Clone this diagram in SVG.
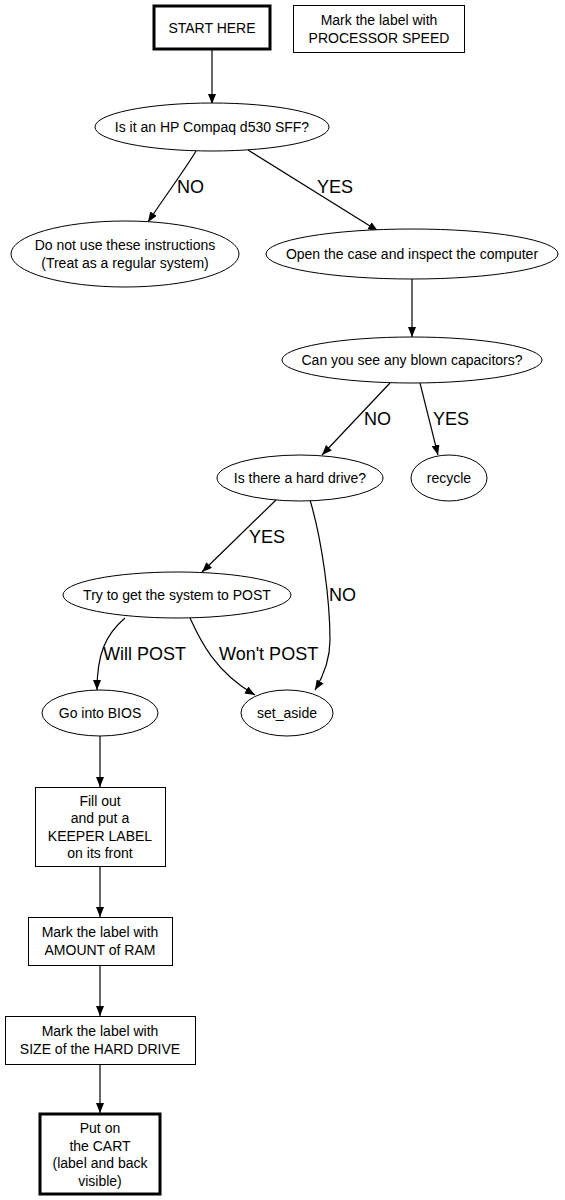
<svg xmlns="http://www.w3.org/2000/svg" width="565" height="1200" viewBox="0 0 565 1200">
<defs>
<marker id="arr" markerWidth="10" markerHeight="8" refX="10" refY="4" orient="auto" markerUnits="userSpaceOnUse">
<path d="M0,0 L10,4 L0,8 z" fill="#000"/>
</marker>
<style>
.n{fill:#fff;stroke:#000;stroke-width:1}
.b{fill:#fff;stroke:#000;stroke-width:3}
text{font-family:"Liberation Sans",Arial,sans-serif;fill:#000}
.t{font-size:14px;text-anchor:middle}
.l{font-size:18px}
.e{fill:none;stroke:#000;stroke-width:1.2;marker-end:url(#arr)}
</style>
</defs>
<rect width="565" height="1200" fill="#fff"/>
<g id="connectors">
<path class="e" d="M212,50 L212,104"/>
<path class="e" d="M196,151 C186,168 166,195 148,222"/>
<path class="e" d="M248,150 L378,231"/>
<path class="e" d="M412,279 L412,337"/>
<path class="e" d="M390,383 L322,455"/>
<path class="e" d="M420,383 L438,455"/>
<path class="e" d="M276,500 L202,572"/>
<path class="e" d="M310,500 C322,540 330,600 330,640 C330,660 324,675 315,690"/>
<path class="e" d="M125,618 C105,635 97,655 97,690"/>
<path class="e" d="M190,618 C200,640 215,672 255,695"/>
<path class="e" d="M100,736 L100,787"/>
<path class="e" d="M100,866 L100,917"/>
<path class="e" d="M100,965 L100,1016"/>
<path class="e" d="M100,1064 L100,1113"/>
<text class="l" x="177" y="193">NO</text>
<text class="l" x="317" y="193">YES</text>
<text class="l" x="364" y="425">NO</text>
<text class="l" x="433" y="425">YES</text>
<text class="l" x="249" y="543">YES</text>
<text class="l" x="329" y="601">NO</text>
<text class="l" x="103" y="660">Will POST</text>
<text class="l" x="219" y="660">Won't POST</text>
</g>
<g id="start"><rect class="b" x="154" y="6" width="116" height="43"/><text class="t" x="212" y="33">START HERE</text></g>
<g id="speed"><rect class="n" x="293.5" y="5.5" width="171" height="47"/><text class="t" x="379" y="25">Mark the label with</text><text class="t" x="379" y="43">PROCESSOR SPEED</text></g>
<g id="hp"><ellipse class="n" cx="212" cy="127" rx="117" ry="24"/><text class="t" x="212" y="132">Is it an HP Compaq d530 SFF?</text></g>
<g id="donot"><ellipse class="n" cx="125" cy="254" rx="114" ry="33"/><text class="t" x="125" y="250">Do not use these instructions</text><text class="t" x="125" y="268">(Treat as a regular system)</text></g>
<g id="open"><ellipse class="n" cx="412" cy="254" rx="146" ry="25"/><text class="t" x="412" y="259">Open the case and inspect the computer</text></g>
<g id="caps"><ellipse class="n" cx="412" cy="360" rx="130" ry="23"/><text class="t" x="412" y="365">Can you see any blown capacitors?</text></g>
<g id="hd"><ellipse class="n" cx="300" cy="478" rx="83" ry="23"/><text class="t" x="300" y="483">Is there a hard drive?</text></g>
<g id="recycle"><ellipse class="n" cx="449" cy="478" rx="38" ry="23"/><text class="t" x="449" y="483">recycle</text></g>
<g id="post"><ellipse class="n" cx="177" cy="595" rx="114" ry="23"/><text class="t" x="177" y="600">Try to get the system to POST</text></g>
<g id="bios"><ellipse class="n" cx="100" cy="713" rx="58" ry="23"/><text class="t" x="100" y="718">Go into BIOS</text></g>
<g id="setaside"><ellipse class="n" cx="287" cy="713" rx="46" ry="23"/><text class="t" x="287" y="718">set_aside</text></g>
<g id="fill"><rect class="n" x="35.5" y="787.5" width="130" height="79"/><text class="t" x="100" y="806">Fill out</text><text class="t" x="100" y="823">and put a</text><text class="t" x="100" y="841">KEEPER LABEL</text><text class="t" x="100" y="858">on its front</text></g>
<g id="ram"><rect class="n" x="28.5" y="917.5" width="144" height="48"/><text class="t" x="100" y="937">Mark the label with</text><text class="t" x="100" y="955">AMOUNT of RAM</text></g>
<g id="hdsize"><rect class="n" x="5.5" y="1016.5" width="190" height="48"/><text class="t" x="100" y="1036">Mark the label with</text><text class="t" x="100" y="1054">SIZE of the HARD DRIVE</text></g>
<g id="cart"><rect class="b" x="40" y="1114" width="120" height="80"/><text class="t" x="100" y="1133">Put on</text><text class="t" x="100" y="1151">the CART</text><text class="t" x="100" y="1168">(label and back</text><text class="t" x="100" y="1186">visible)</text></g>
</svg>
